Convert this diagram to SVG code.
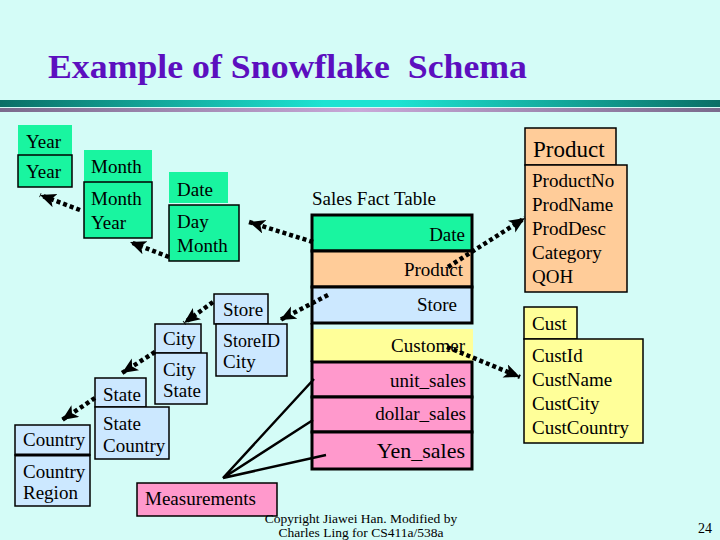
<svg xmlns="http://www.w3.org/2000/svg" width="720" height="540" viewBox="0 0 720 540" font-family="'Liberation Serif', 'Times New Roman', serif">
<defs>
<linearGradient id="teal" x1="0" y1="0" x2="1" y2="0">
<stop offset="0" stop-color="#0a6f66"/><stop offset="0.45" stop-color="#1de3d2"/><stop offset="0.55" stop-color="#1de3d2"/><stop offset="1" stop-color="#0a6f66"/>
</linearGradient>
<linearGradient id="mauve" x1="0" y1="0" x2="1" y2="0">
<stop offset="0" stop-color="#7a6a8c"/><stop offset="0.5" stop-color="#c9a8d8"/><stop offset="1" stop-color="#7a6a8c"/>
</linearGradient>
<marker id="ah" markerUnits="userSpaceOnUse" markerWidth="20" markerHeight="16" refX="16" refY="7" orient="auto">
<path d="M0,0 L16,7 L0,14 L4,7 Z" fill="#000"/>
</marker>
<style>
text{font-family:'Liberation Serif','Times New Roman',serif;font-size:19px;fill:#000}
.g{fill:#19f5a0}
.gb{fill:#19f5a0;stroke:#000;stroke-width:1.5}
.o{fill:#ffcc99;stroke:#000;stroke-width:1.5}
.b{fill:#cce8ff;stroke:#000;stroke-width:1.5}
.y{fill:#ffff99;stroke:#000;stroke-width:1.5}
.p{fill:#ff99cc;stroke:#000;stroke-width:1.5}
.row{stroke:#000;stroke-width:3}
.dot{fill:none;stroke:#000;stroke-width:4.5;stroke-dasharray:4 3;marker-end:url(#ah)}
.sl{fill:none;stroke:#000;stroke-width:2.5}
.r{text-anchor:end}
.ft{font-size:13.5px;text-anchor:middle}
</style>
</defs>
<rect width="720" height="540" fill="#d4fcf7"/>
<text x="48" y="78" xml:space="preserve" textLength="479" lengthAdjust="spacingAndGlyphs" style="font-size:33px;font-weight:bold;fill:#5c0fbf;white-space:pre">Example of Snowflake  Schema</text>
<rect x="0" y="100" width="720" height="7" fill="url(#teal)"/>
<rect x="0" y="108" width="720" height="4" fill="url(#mauve)"/>

<g id="year">
<rect class="g" x="18" y="125" width="54" height="30"/>
<rect class="gb" x="18" y="155" width="54" height="32"/>
<text x="26" y="148">Year</text>
<text x="26" y="178">Year</text>
</g>
<g id="month">
<rect class="g" x="84" y="150" width="68" height="32"/>
<rect class="gb" x="84" y="182" width="68" height="56"/>
<text x="91" y="173">Month</text>
<text x="91" y="205">Month</text>
<text x="91" y="229">Year</text>
</g>
<g id="date">
<rect class="g" x="169" y="172" width="59" height="31"/>
<rect class="gb" x="169" y="205" width="70" height="56"/>
<text x="177" y="196">Date</text>
<text x="177" y="228">Day</text>
<text x="177" y="252">Month</text>
</g>

<g id="fact">
<text x="312" y="205">Sales Fact Table</text>
<rect class="row" x="312" y="215" width="160" height="36" fill="#19f5a0"/>
<rect class="row" x="312" y="251" width="160" height="36" fill="#ffcc99"/>
<rect class="row" x="312" y="287" width="160" height="36" fill="#cce8ff"/>
<rect x="312" y="329" width="161" height="32" fill="#ffff99"/>
<line x1="312" y1="323" x2="312" y2="362" stroke="#000" stroke-width="3"/>
<rect class="row" x="312" y="362" width="160" height="35" fill="#ff99cc"/>
<rect class="row" x="312" y="397" width="160" height="35" fill="#ff99cc"/>
<rect class="row" x="312" y="432" width="160" height="37" fill="#ff99cc"/>
<text class="r" x="465" y="241">Date</text>
<text class="r" x="463" y="276">Product</text>
<text class="r" x="457" y="311">Store</text>
<text class="r" x="465" y="352">Customer</text>
<text class="r" x="466" y="387">unit_sales</text>
<text class="r" x="466" y="420">dollar_sales</text>
<text class="r" x="465" y="458" style="font-size:22px">Yen_sales</text>
</g>

<g id="product">
<rect class="o" x="525" y="128" width="91" height="37"/>
<rect class="o" x="525" y="165" width="102" height="127"/>
<text x="533" y="157" style="font-size:23px">Product</text>
<text x="532" y="187">ProductNo</text>
<text x="532" y="211">ProdName</text>
<text x="532" y="235">ProdDesc</text>
<text x="532" y="259">Category</text>
<text x="532" y="283">QOH</text>
</g>

<g id="cust">
<rect class="y" x="524" y="307" width="53" height="32"/>
<rect class="y" x="524" y="339" width="119" height="104"/>
<text x="532" y="330">Cust</text>
<text x="532" y="362">CustId</text>
<text x="532" y="386">CustName</text>
<text x="532" y="410">CustCity</text>
<text x="532" y="434">CustCountry</text>
</g>

<g id="store">
<rect class="b" x="214" y="294" width="54" height="30"/>
<rect class="b" x="216" y="324" width="71" height="52"/>
<text x="223" y="316">Store</text>
<text x="223" y="347" style="font-size:18px">StoreID</text>
<text x="223" y="368">City</text>
</g>
<g id="city">
<rect class="b" x="155" y="324" width="46" height="29"/>
<rect class="b" x="155" y="353" width="52" height="51"/>
<text x="163" y="345">City</text>
<text x="163" y="376">City</text>
<text x="163" y="397">State</text>
</g>
<g id="state">
<rect class="b" x="95" y="378" width="51" height="29"/>
<rect class="b" x="95" y="407" width="74" height="52"/>
<text x="103" y="401">State</text>
<text x="103" y="430">State</text>
<text x="103" y="452">Country</text>
</g>
<g id="country">
<rect class="b" x="15" y="425" width="75" height="30"/>
<rect class="b" x="15" y="455" width="75" height="51"/>
<line x1="15" y1="455" x2="90" y2="455" stroke="#000" stroke-width="3"/>
<text x="23" y="446">Country</text>
<text x="23" y="478">Country</text>
<text x="23" y="499">Region</text>
</g>
<g id="measurements">
<rect class="p" x="137" y="483" width="140" height="33"/>
<text x="145" y="505">Measurements</text>
</g>

<g id="connectors">
<path class="dot" d="M80,210 L40,195"/>
<path class="dot" d="M169,257 L130,242"/>
<path class="dot" d="M313,242 L249,222"/>
<path class="dot" d="M448,267 L525,218"/>
<path class="dot" d="M328,295 L280,320"/>
<path class="dot" d="M213,302 L184,323"/>
<path class="dot" d="M155,352 L122,373"/>
<path class="dot" d="M95,398 L62,420"/>
<path class="dot" d="M447,347 L520,377"/>
<path class="sl" d="M314,379 L223,478 L313,420 M223,478 L326,455"/>
</g>

<text class="ft" x="361" y="523">Copyright Jiawei Han. Modified by</text>
<text class="ft" x="361" y="537">Charles Ling for CS411a/538a</text>
<text x="705" y="533" text-anchor="middle" style="font-size:14px">24</text>
</svg>
